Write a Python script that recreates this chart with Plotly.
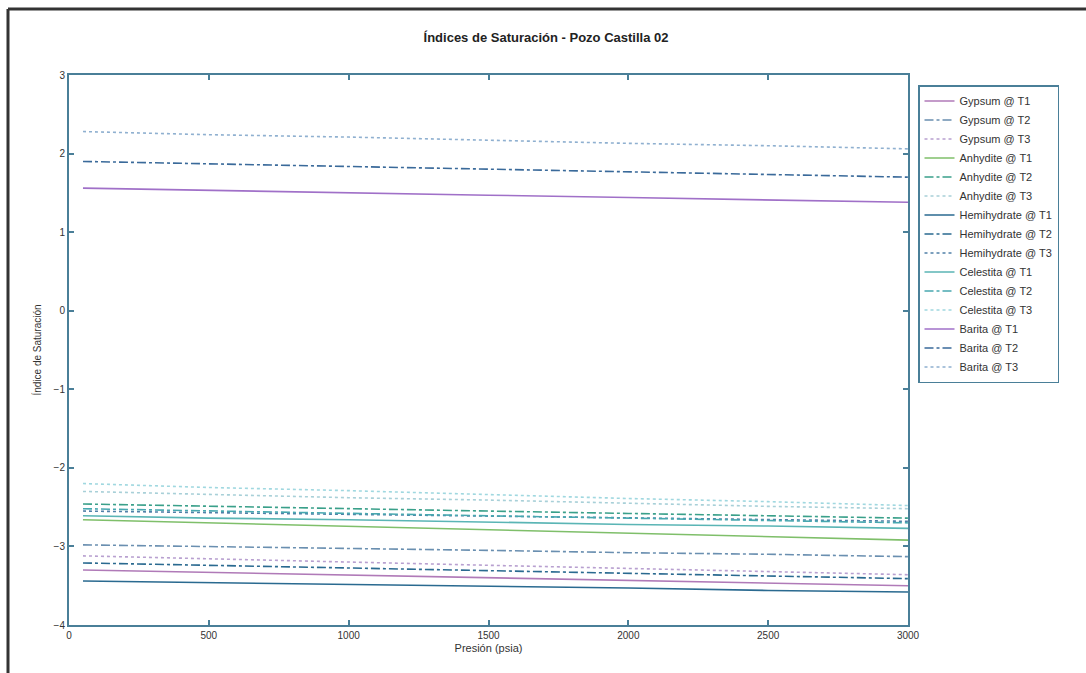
import plotly.graph_objects as go

presion = [50, 500, 1000, 1500, 2000, 2500, 3000]

gypsum_t1 = [-3.30, -3.33, -3.37, -3.40, -3.43, -3.47, -3.50]
gypsum_t2 = [-2.98, -3.00, -3.03, -3.05, -3.08, -3.10, -3.13]
gypsum_t3 = [-3.12, -3.16, -3.20, -3.24, -3.28, -3.32, -3.36]
anhydrite_t1 = [-2.66, -2.70, -2.75, -2.79, -2.83, -2.88, -2.92]
anhydrite_t2 = [-2.46, -2.49, -2.52, -2.55, -2.58, -2.61, -2.64]
anhydrite_t3 = [-2.30, -2.34, -2.38, -2.41, -2.45, -2.49, -2.52]
hemihydrate_t1 = [-3.44, -3.46, -3.49, -3.51, -3.53, -3.56, -3.58]
hemihydrate_t2 = [-3.21, -3.24, -3.28, -3.31, -3.34, -3.38, -3.41]
hemihydrate_t3 = [-2.55, -2.57, -2.59, -2.61, -2.64, -2.66, -2.68]
celestite_t1 = [-2.61, -2.64, -2.66, -2.69, -2.72, -2.74, -2.77]
celestite_t2 = [-2.52, -2.55, -2.58, -2.61, -2.64, -2.67, -2.70]
celestite_t3 = [-2.20, -2.25, -2.29, -2.34, -2.39, -2.43, -2.48]
barite_t1 = [1.56, 1.53, 1.50, 1.47, 1.44, 1.41, 1.38]
barite_t2 = [1.90, 1.87, 1.83, 1.80, 1.77, 1.73, 1.70]
barite_t3 = [2.28, 2.24, 2.21, 2.17, 2.13, 2.10, 2.06]

names = ["Gypsum @ T1", "Gypsum @ T2", "Gypsum @ T3",
         "Anhydite @ T1", "Anhydite @ T2", "Anhydite @ T3",
         "Hemihydrate @ T1", "Hemihydrate @ T2", "Hemihydrate @ T3",
         "Celestita @ T1", "Celestita @ T2", "Celestita @ T3",
         "Barita @ T1", "Barita @ T2", "Barita @ T3"]
series = [gypsum_t1, gypsum_t2, gypsum_t3,
          anhydrite_t1, anhydrite_t2, anhydrite_t3,
          hemihydrate_t1, hemihydrate_t2, hemihydrate_t3,
          celestite_t1, celestite_t2, celestite_t3,
          barite_t1, barite_t2, barite_t3]
colors = ["#b07ab8", "#6a8fb0", "#b8a0d0",
          "#7fbf6a", "#3aa08a", "#a8d0d8",
          "#2a6a90", "#2a6a90", "#5080a8",
          "#5ab5b5", "#48a8b0", "#a0d8e0",
          "#a070c8", "#3a6a9a", "#8fb0d0"]
dashes = ["solid", "dashdot", "dot"] * 5

fig = go.Figure()
for n, s, c, d in zip(names, series, colors, dashes):
    fig.add_trace(go.Scatter(x=presion, y=s, mode="lines", name=n,
                             line=dict(color=c, dash=d, width=1.6)))

axcol = "#4a7f98"
font = "Liberation Sans, Arial, sans-serif"

fig.update_layout(
    width=1086, height=673,
    margin=dict(l=69, r=178, t=75, b=48),
    paper_bgcolor="white", plot_bgcolor="white",
    font=dict(family=font, size=10, color="#333"),
    title=dict(text="<b>Índices de Saturación - Pozo Castilla 02</b>",
               x=546 / 1086, xanchor="center", y=1 - 37 / 673, yanchor="middle",
               font=dict(size=13, color="#222")),
    showlegend=True,
    legend=dict(x=(918 - 69) / 839, y=(625 - 85) / 550, xanchor="left", yanchor="top",
                bordercolor=axcol, borderwidth=1.5, bgcolor="white",
                font=dict(size=11, color="#333"), tracegroupgap=0, itemwidth=30),
    xaxis=dict(range=[0, 3000], dtick=500, showgrid=False, zeroline=False,
               showline=True, linecolor=axcol, linewidth=2, mirror="ticks",
               ticks="inside", ticklen=5, tickcolor=axcol, tickwidth=1.5,
               tickfont=dict(size=10),
               title=dict(text="Presión (psia)", font=dict(size=11), standoff=4)),
    yaxis=dict(range=[-4, 3], dtick=1, showgrid=False, zeroline=False,
               showline=True, linecolor=axcol, linewidth=2, mirror="ticks",
               ticks="inside", ticklen=5, tickcolor=axcol, tickwidth=1.5,
               tickfont=dict(size=10),
               title=dict(text="Índice de Saturación", font=dict(size=10), standoff=10)),
)

# outer frame of the scanned figure
fig.add_shape(type="line", xref="paper", yref="paper",
              x0=(8 - 69) / 839, x1=(1090 - 69) / 839,
              y0=(625 - 9) / 550, y1=(625 - 9) / 550,
              line=dict(color="#333", width=3))
fig.add_shape(type="line", xref="paper", yref="paper",
              x0=(8 - 69) / 839, x1=(8 - 69) / 839,
              y0=(625 - 9) / 550, y1=(625 - 680) / 550,
              line=dict(color="#333", width=3))

fig.write_html("out.html")
